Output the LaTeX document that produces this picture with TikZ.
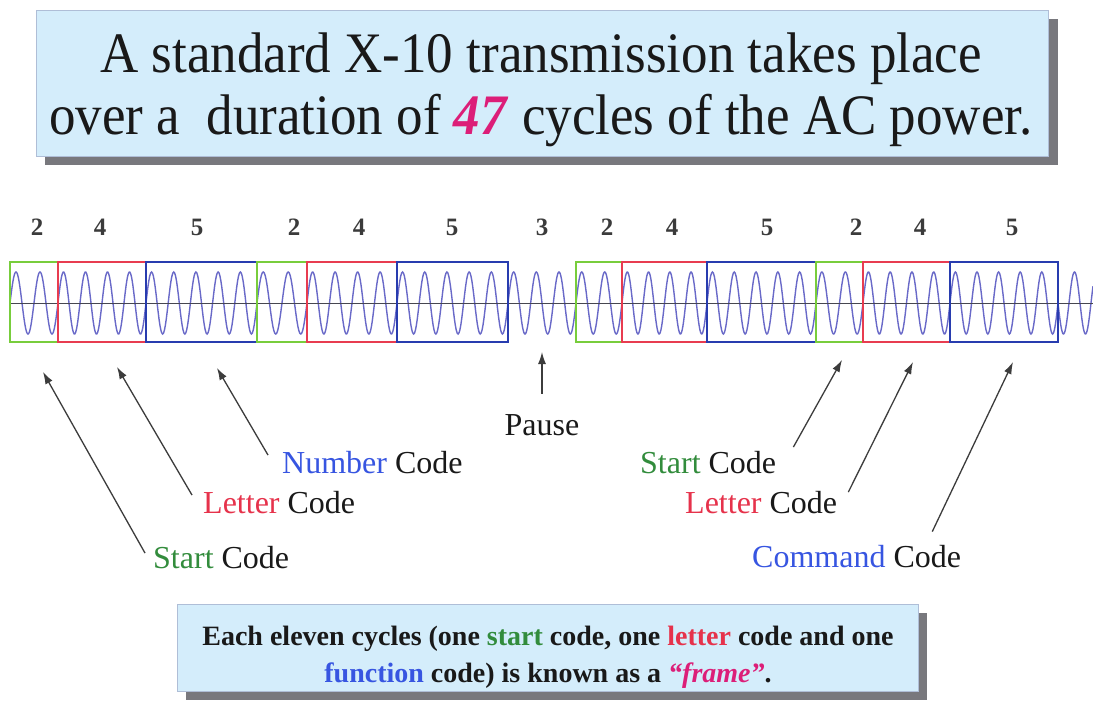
\documentclass[tikz,border=0pt]{standalone}
\usepackage{fontspec}
\setmainfont{Liberation Serif}
\usetikzlibrary{arrows.meta}
\definecolor{boxfill}{RGB}{212,237,251}
\definecolor{boxline}{RGB}{175,190,215}
\definecolor{shadowc}{RGB}{120,120,125}
\definecolor{gcol}{RGB}{120,205,60}
\definecolor{rcol}{RGB}{232,60,80}
\definecolor{bcol}{RGB}{40,60,175}
\definecolor{wavec}{RGB}{105,105,200}
\definecolor{axisc}{RGB}{70,70,80}
\definecolor{tgreen}{RGB}{50,140,60}
\definecolor{tred}{RGB}{230,50,75}
\definecolor{tblue}{RGB}{55,85,225}
\definecolor{tmag}{RGB}{220,30,120}
\definecolor{txt}{RGB}{25,25,25}
\definecolor{arrc}{RGB}{60,60,60}
\begin{document}
\begin{tikzpicture}[x=1pt,y=-1pt,
  codebox/.style={line width=2.6pt},
  wave/.style={wavec, line width=1.4pt},
  num/.style={font=\bfseries\fontsize{25}{25}\selectfont, text=txt!85, inner sep=0pt, anchor=base},
  lbl/.style={font=\fontsize{32}{32}\selectfont, text=txt, inner sep=0pt, anchor=base west},
  ttl/.style={font=\fontsize{53}{60}\selectfont, text=txt, inner sep=0pt, anchor=base},
  ftxt/.style={font=\bfseries\fontsize{28}{30}\selectfont, text=txt, inner sep=0pt, anchor=base},
  arr/.style={arrc, line width=1.3pt, -{Latex[length=12pt,width=8pt]}},
  panel/.style={draw=boxline, fill=boxfill, line width=0.8pt},
  shade/.style={fill=shadowc}
]
\useasboundingbox[fill=white] (0,0) rectangle (1093,706);

% title panel
\fill[shade] (45,19) rectangle (1058,165);
\draw[panel] (36,10) rectangle (1048,156);
\node[ttl] (t1) at (541,73) {\scalebox{1}[1.08]{A standard X-10 transmission takes place}};
\node[ttl] (t2) at (541,135) {\scalebox{1}[1.08]{over a~~duration of \textcolor{tmag}{\textbf{\textit{47}}} cycles of the AC power.}};

% waveform
\foreach \a/\b/\n in {10/58/2, 58/146/4, 146/257/5, 257/307/2, 307/397/4, 397/508/5, 508/576/3, 576/622/2, 622/707/4, 707/816/5, 816/863/2, 863/950/4, 950/1058/5}
  \draw[wave] plot[domain=0:1, samples=121] ({\a+\x*(\b-\a)},{303-31*sin(360*\n*\x)});
\draw[wave] plot[domain=1058:1093, samples=60] (\x,{303+31*sin(360*(\x-1058)/22)});
\draw[axisc, line width=1pt] (10,303) -- (1093,303);
\foreach \a/\b/\c in {10/58/gcol, 58/146/rcol, 146/257/bcol, 257/307/gcol, 307/397/rcol, 397/508/bcol, 576/622/gcol, 622/707/rcol, 707/816/bcol, 816/863/gcol, 863/950/rcol, 950/1058/bcol}
  \draw[codebox,\c] (\a,262) rectangle (\b,342);

% cycle counts
\node[num] (n1) at (37,235) {2};
\node[num] (n2) at (100,235) {4};
\node[num] (n3) at (197,235) {5};
\node[num] (n4) at (294,235) {2};
\node[num] (n5) at (359,235) {4};
\node[num] (n6) at (452,235) {5};
\node[num] (n7) at (542,235) {3};
\node[num] (n8) at (607,235) {2};
\node[num] (n9) at (672,235) {4};
\node[num] (n10) at (767,235) {5};
\node[num] (n11) at (856,235) {2};
\node[num] (n12) at (920,235) {4};
\node[num] (n13) at (1012,235) {5};

% labels
\node[lbl] (ls) at (153,568) {\textcolor{tgreen}{Start} Code};
\node[lbl] (ll) at (203,513) {\textcolor{tred}{Letter} Code};
\node[lbl] (ln) at (282,473) {\textcolor{tblue}{Number} Code};
\node[lbl] (rs) at (640,473) {\textcolor{tgreen}{Start} Code};
\node[lbl] (rl) at (685,513) {\textcolor{tred}{Letter} Code};
\node[lbl] (rc) at (752,567) {\textcolor{tblue}{Command} Code};
\node[lbl, anchor=base] (pa) at (542,435) {Pause};

% arrow heads
\coordinate (h1) at (43,372);
\coordinate (h2) at (117,367);
\coordinate (h3) at (217,368);
\coordinate (hp) at (542,352);
\coordinate (h4) at (842,360);
\coordinate (h5) at (913,362);
\coordinate (h6) at (1013,362);

\draw[arr] ([shift={(-8pt,4pt)}]ls.west) -- (h1);
\draw[arr] ([shift={(-11pt,7pt)}]ll.west) -- (h2);
\draw[arr] ([shift={(-14pt,7pt)}]ln.west) -- (h3);
\draw[arr] ([shift={(0pt,20pt)}]pa.north) -- (hp);
\draw[arr] ([shift={(17pt,15pt)}]rs.east) -- (h4);
\draw[arr] ([shift={(11pt,10pt)}]rl.east) -- (h5);
\draw[arr] ([shift={(-29pt,13pt)}]rc.north east) -- (h6);

% frame panel
\fill[shade] (186,613) rectangle (927,700);
\draw[panel] (177,604) rectangle (918,691);
\node[ftxt] (f1) at (548,645) {Each eleven cycles (one \textcolor{tgreen}{start} code, one \textcolor{tred}{letter} code and one};
\node[ftxt] (f2) at (548,682) {\textcolor{tblue}{function} code) is known as a \textcolor{tmag}{\textit{“frame”}}.};
\end{tikzpicture}
\end{document}
